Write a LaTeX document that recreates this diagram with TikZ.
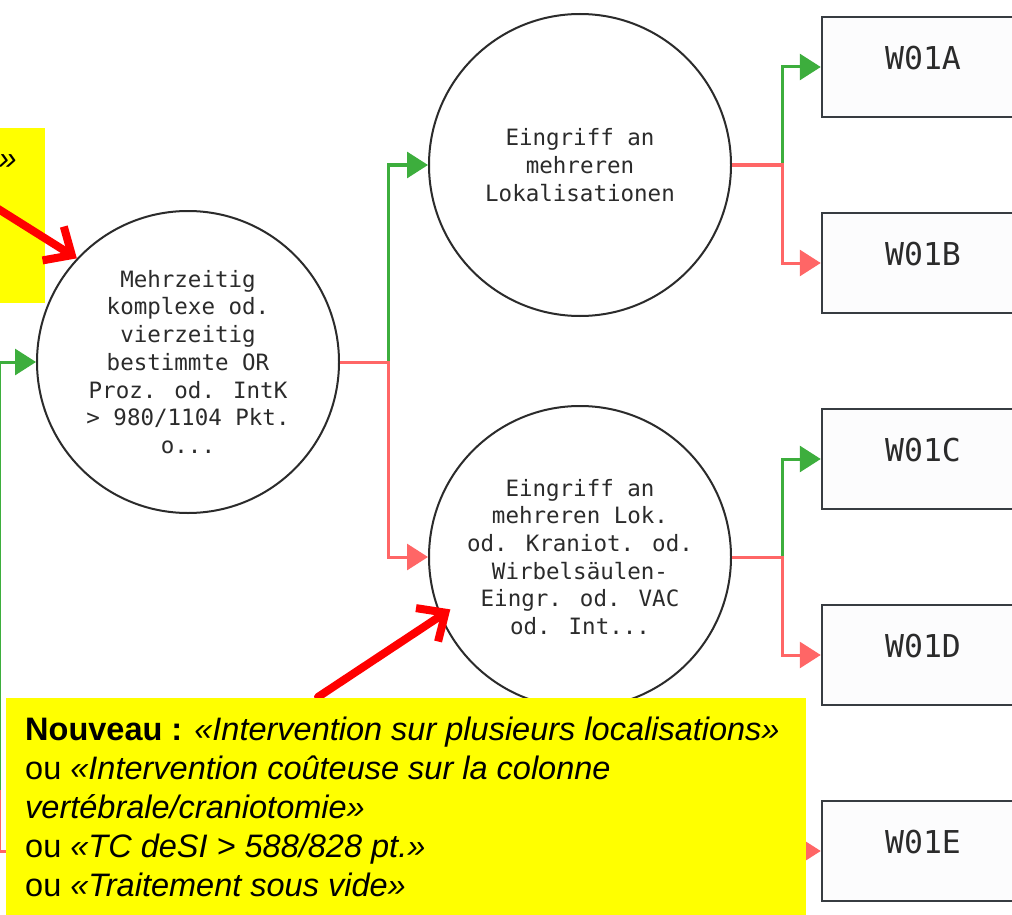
\documentclass[tikz,border=0pt]{standalone}
\usepackage{fontspec}
\usepackage{tikz}
\usetikzlibrary{arrows.meta,calc,positioning}
\setmainfont{Liberation Sans}
\newfontfamily\treemono{DejaVu Sans Mono}
\definecolor{trYes}{RGB}{61,174,61}
\definecolor{trNo}{RGB}{255,102,102}
\definecolor{trInk}{RGB}{43,43,43}
\definecolor{trFrame}{RGB}{55,60,65}
\definecolor{trPaper}{RGB}{252,252,253}
\definecolor{trNote}{RGB}{255,255,0}
\definecolor{trMark}{RGB}{255,0,0}
\newcommand{\leafbox}[3]{%
  \node[leaf] (#1) at (923,#2) {#3};
}
\tikzset{
  split/.style={circle,draw=trInk,line width=2pt,minimum size=302pt,inner sep=0pt,
    align=center,text=trInk,font=\treemono\fontsize{22.5}{27.7}\selectfont},
  leaf/.style={rectangle,draw=trFrame,fill=trPaper,line width=2.5pt,
    minimum width=202pt,minimum height=100pt,text height=23pt,text depth=18pt,
    text=trInk,font=\treemono\fontsize{31.5}{31.5}\selectfont},
  yes/.style={draw=trYes,line width=3pt,-{Triangle[length=21pt,width=26pt]}},
  no/.style={draw=trNo,line width=3pt,-{Triangle[length=21pt,width=26pt]}},
  pointer/.style={draw=trMark,line width=8pt,line cap=round,line join=round,
    -{Straight Barb[length=22pt,width=40pt]}},
  note/.style={inner sep=0pt,align=left,font=\fontsize{32.5}{39}\selectfont}
}
\begin{document}
\begin{tikzpicture}[x=1pt,y=-1pt]
  \useasboundingbox (0,0) rectangle (1012,915);
  \fill[white] (0,0) rectangle (1012,915);
  \node[split] (c1) at (188,362) {Mehrzeitig\\komplexe od.\\vierzeitig\\bestimmte OR\\Proz. od. IntK\\> 980/1104 Pkt.\\o...};
  \node[split] (c2) at (580,165) {Eingriff an\\mehreren\\Lokalisationen};
  \node[split] (c3) at (580,557) {Eingriff an\\mehreren Lok.\\od. Kraniot. od.\\Wirbelsäulen-\\Eingr. od. VAC\\od. Int...};
  \leafbox{wa}{67}{W01A}
  \leafbox{wb}{263}{W01B}
  \leafbox{wc}{459}{W01C}
  \leafbox{wd}{655}{W01D}
  \leafbox{we}{851}{W01E}
  \coordinate (j0) at (-1,790);
  \coordinate (j1) at (388,362);
  \coordinate (j2) at (782,165);
  \coordinate (j3) at (782,557);
  \draw[yes] (j0) |- (c1.west);
  \draw[no] (j0) |- (we.west);
  \draw[yes] (c1.east) -- (j1) |- (c2.west);
  \draw[no] (c1.east) -- (j1) |- (c3.west);
  \draw[yes] (c2.east) -- (j2) |- (wa.west);
  \draw[no] (c2.east) -- (j2) |- (wb.west);
  \draw[yes] (c3.east) -- (j3) |- (wc.west);
  \draw[no] (c3.east) -- (j3) |- (wd.west);
  \fill[trNote] (0,128) rectangle (45,303);
  \node[note,anchor=base east] (quote) at (17,170) {\itshape »};
  \coordinate (q1) at (-16,200);
  \draw[pointer] (q1) -- (c1.137);
  \coordinate (q2) at (318,697);
  \draw[pointer] (q2) -- ($(c3.center)!0.92!(c3.202)$);
  \fill[trNote] (6,698) rectangle (806,915);
  \node[note,anchor=north west] (newtext) at (25,717) {%
    {\bfseries Nouveau :} \textit{«Intervention sur plusieurs localisations»}\\
    ou \textit{«Intervention coûteuse sur la colonne}\\
    \textit{vertébrale/craniotomie»}\\
    ou \textit{«TC deSI > 588/828 pt.»}\\
    ou \textit{«Traitement sous vide»}};
\end{tikzpicture}
\end{document}
